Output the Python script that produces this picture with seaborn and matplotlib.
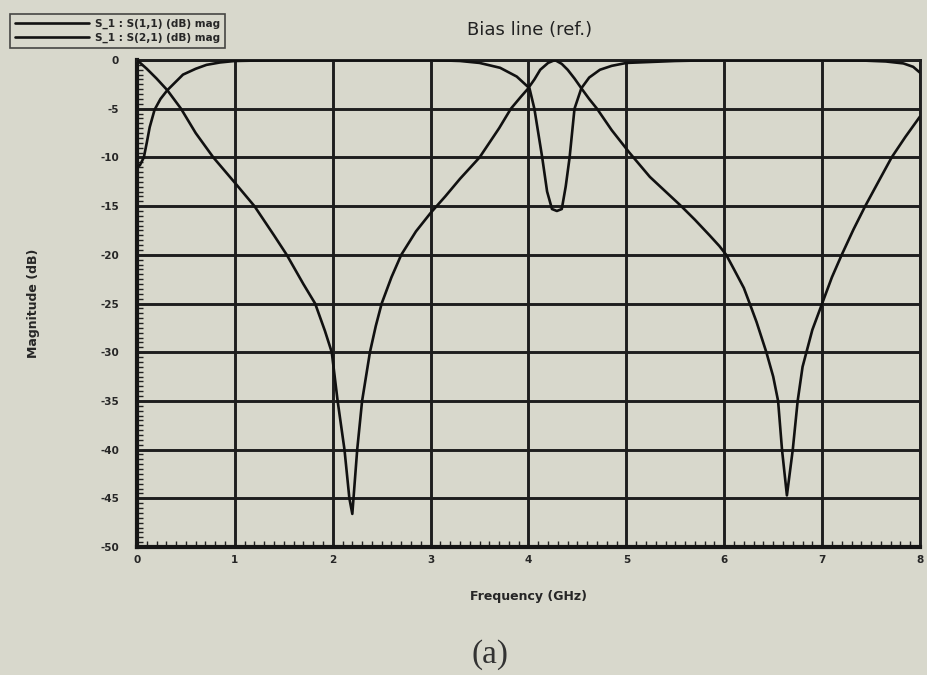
import numpy as np
import pandas as pd
import matplotlib
matplotlib.use("Agg")
import matplotlib.pyplot as plt
import seaborn as sns
from matplotlib.ticker import MultipleLocator

# ---- data ----
s11_freq = [0.0, 0.1, 0.2, 0.31, 0.45, 0.6, 0.78, 1.0, 1.2, 1.4, 1.53, 1.7, 1.82, 1.92, 1.99,
            2.05, 2.12, 2.17, 2.20, 2.25, 2.30, 2.38, 2.44, 2.5, 2.6, 2.7, 2.85, 3.0, 3.15,
            3.3, 3.5, 3.7, 3.82, 3.92, 3.99, 4.06, 4.12, 4.2, 4.27, 4.34, 4.4, 4.47, 4.54,
            4.62, 4.7, 4.85, 5.03, 5.24, 5.4, 5.56, 5.7, 5.85, 5.95, 6.02, 6.1, 6.2, 6.26,
            6.33, 6.43, 6.5, 6.55, 6.59, 6.64, 6.70, 6.75, 6.80, 6.9, 7.0, 7.1, 7.2, 7.32,
            7.44, 7.58, 7.71, 7.85, 8.0]
s11_db = [0.0, -0.9, -1.9, -3.1, -5.0, -7.5, -10.0, -12.6, -15.0, -18.0, -20.0, -23.0, -25.0,
          -27.8, -30.0, -35.0, -40.0, -45.0, -46.6, -40.0, -35.0, -30.0, -27.3, -25.0, -22.3,
          -20.0, -17.6, -15.7, -14.0, -12.2, -10.0, -7.0, -5.0, -3.8, -3.0, -2.0, -1.0, -0.3,
          0.0, -0.4, -1.0, -1.9, -2.9, -4.0, -5.0, -7.2, -9.5, -12.0, -13.5, -15.0, -16.4,
          -18.0, -19.1, -20.0, -21.5, -23.4, -25.0, -26.9, -30.0, -32.5, -35.0, -40.0, -44.7,
          -40.0, -35.0, -31.5, -27.7, -25.0, -22.3, -20.0, -17.4, -15.0, -12.4, -10.0, -7.9,
          -5.8]

s21_freq = [0.0, 0.03, 0.07, 0.10, 0.13, 0.18, 0.24, 0.31, 0.4, 0.47, 0.6, 0.71, 0.85, 1.0,
            1.5, 2.0, 2.5, 3.0, 3.3, 3.5, 3.71, 3.88, 4.01, 4.06, 4.1, 4.14, 4.19, 4.24, 4.29,
            4.34, 4.38, 4.42, 4.47, 4.54, 4.62, 4.73, 4.85, 5.0, 5.5, 6.0, 6.5, 7.0, 7.4, 7.65,
            7.83, 7.93, 8.0]
s21_db = [-11.0, -10.8, -10.0, -8.5, -6.9, -5.1, -4.0, -3.1, -2.2, -1.5, -0.9, -0.5, -0.25,
          -0.1, 0.0, 0.0, 0.0, 0.0, -0.1, -0.3, -0.8, -1.7, -2.9, -5.0, -7.5, -10.0, -13.5,
          -15.3, -15.5, -15.3, -13.0, -10.0, -5.0, -2.9, -1.8, -1.0, -0.6, -0.3, -0.1, 0.0,
          0.0, 0.0, -0.05, -0.15, -0.35, -0.7, -1.3]

trace_labels = ["S_1 : S(1,1) (dB) mag", "S_1 : S(2,1) (dB) mag"]
x_ticks = [0, 1, 2, 3, 4, 5, 6, 7, 8]
y_ticks = [0, -5, -10, -15, -20, -25, -30, -35, -40, -45, -50]

title_text = "Bias line (ref.)"
x_label = "Frequency (GHz)"
y_label = "Magnitude (dB)"
caption = "(a)"

# ---- build table ----
df = pd.concat([
    pd.DataFrame({"freq": s11_freq, "db": s11_db, "trace": trace_labels[0]}),
    pd.DataFrame({"freq": s21_freq, "db": s21_db, "trace": trace_labels[1]}),
], ignore_index=True)

sns.set_style("ticks")
plt.rcParams["font.family"] = ["DejaVu Sans"]

bg = "#d8d8cc"
fig = plt.figure(figsize=(9.28, 6.75), dpi=100, facecolor=bg)
ax = fig.add_axes([0.1476, 0.1896, 0.8438, 0.7215], facecolor=bg)

sns.lineplot(data=df, x="freq", y="db", hue="trace", palette=["#111111", "#111111"],
             estimator=None, sort=False, linewidth=1.9, legend=False, ax=ax, zorder=3)

ax.set_xlim(0, 8)
ax.set_ylim(-50, 0)
ax.set_xticks(x_ticks)
ax.set_yticks(y_ticks)
ax.set_xticklabels([str(v) for v in x_ticks])
ax.set_yticklabels([str(v) for v in y_ticks])
ax.xaxis.set_minor_locator(MultipleLocator(0.1))
ax.yaxis.set_minor_locator(MultipleLocator(0.5))
ax.grid(True, which="major", color="#1e1e1e", linewidth=2.1, zorder=1)
ax.set_axisbelow(True)
ax.tick_params(which="major", direction="in", length=0, labelsize=7.5, pad=6)
ax.tick_params(axis="y", which="major", pad=13)
ax.tick_params(which="minor", direction="in", length=4, width=1, color="#222222")
for lab in ax.get_xticklabels() + ax.get_yticklabels():
    lab.set_fontweight("bold")
for side in ["left", "bottom"]:
    ax.spines[side].set_linewidth(3)
    ax.spines[side].set_color("#151515")
for side in ["top", "right"]:
    ax.spines[side].set_linewidth(2.1)
    ax.spines[side].set_color("#1e1e1e")

ax.set_xlabel(x_label, fontsize=9, fontweight="bold")
ax.set_ylabel(y_label, fontsize=9, fontweight="bold")
ax.xaxis.set_label_coords(0.5, -0.088)
ax.yaxis.set_label_coords(-0.124, 0.5)

fig.text(530 / 928, 1 - 30 / 675, title_text, ha="center", va="center", fontsize=13,
         color="#222222")
fig.text(490 / 928, 1 - 655 / 675, caption, ha="center", va="center", fontsize=24,
         family=["Liberation Serif", "DejaVu Serif"], color="#333333")

handles = ax.get_lines()[:2]
leg = fig.legend(handles, trace_labels, loc="upper left",
                 bbox_to_anchor=(5 / 928, 1 - 9 / 675), fontsize=7.6, handlelength=7.0,
                 frameon=True, fancybox=False, edgecolor="#222222", facecolor=bg,
                 borderpad=0.45, labelspacing=0.35, handletextpad=0.6)
leg.get_frame().set_linewidth(1.2)
for t in leg.get_texts():
    t.set_fontweight("bold")

fig.savefig("out.png", dpi=100, facecolor=bg)
